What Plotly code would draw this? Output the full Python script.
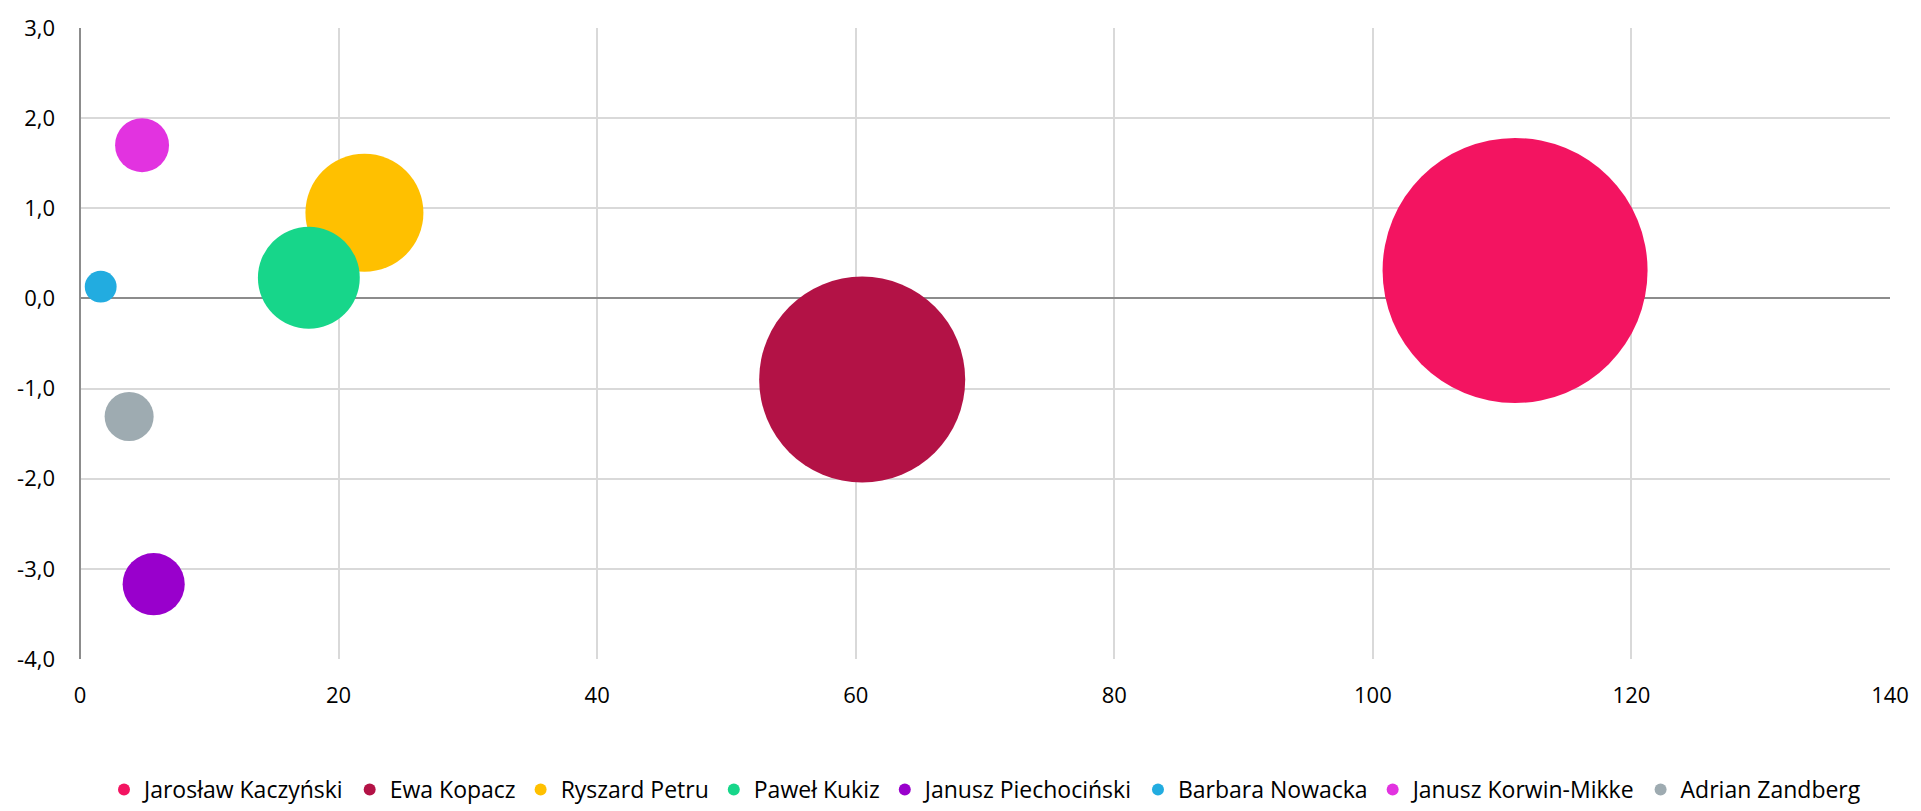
import plotly.graph_objects as go

# Politicians, their position (x, y) and bubble size
names = [
    "Jarosław Kaczyński",
    "Ewa Kopacz",
    "Ryszard Petru",
    "Paweł Kukiz",
    "Janusz Piechociński",
    "Barbara Nowacka",
    "Janusz Korwin-Mikke",
    "Adrian Zandberg",
]
x_values = [111.0, 60.5, 22.0, 17.7, 5.7, 1.6, 4.8, 3.8]
y_values = [0.31, -0.90, 0.95, 0.23, -3.17, 0.13, 1.70, -1.31]
bubble_sizes = [111.0, 67.1, 22.0, 16.4, 6.1, 1.6, 4.6, 3.8]
colors = [
    "#F31461",
    "#B31246",
    "#FFC000",
    "#17D68A",
    "#9900CC",
    "#22ACE0",
    "#E233E0",
    "#9EABB1",
]

x_ticks = [0, 20, 40, 60, 80, 100, 120, 140]
y_ticks = [-4, -3, -2, -1, 0, 1, 2, 3]
y_tick_labels = [f"{v:.1f}".replace(".", ",") for v in y_ticks]

FONT = "Open Sans"
MAX_DIAMETER = 265  # px diameter of the largest bubble
sizeref = 2.0 * max(bubble_sizes) / MAX_DIAMETER ** 2

fig = go.Figure()
for name, xv, yv, sv, col in zip(names, x_values, y_values, bubble_sizes, colors):
    fig.add_trace(
        go.Scatter(
            x=[xv],
            y=[yv],
            name=name,
            mode="markers",
            marker=dict(
                size=[sv],
                sizemode="area",
                sizeref=sizeref,
                color=col,
                opacity=1,
                line=dict(width=0),
            ),
            hovertemplate=name + "<br>%{x}; %{y}<extra></extra>",
        )
    )

fig.update_layout(
    width=1921,
    height=811,
    margin=dict(l=80, r=24, t=23, b=152),
    paper_bgcolor="white",
    plot_bgcolor="white",
    font=dict(family=FONT, size=22, color="#000000"),
    showlegend=True,
    legend=dict(
        orientation="h",
        x=0.5,
        xanchor="center",
        yref="container",
        y=0.0,
        yanchor="bottom",
        itemsizing="constant",
        itemwidth=30,
        font=dict(family=FONT, size=23, color="#000000"),
        traceorder="normal",
    ),
    xaxis=dict(
        range=[0, 140],
        tickvals=x_ticks,
        ticktext=[str(v) for v in x_ticks],
        showgrid=True,
        gridcolor="#D9D9D9",
        gridwidth=1.5,
        zeroline=True,
        zerolinecolor="#8C8C8C",
        zerolinewidth=1.5,
        showline=False,
        ticks="",
        ticklabelstandoff=21,
        tickfont=dict(family=FONT, size=22),
    ),
    yaxis=dict(
        range=[-4, 3],
        tickvals=y_ticks,
        ticktext=y_tick_labels,
        showgrid=True,
        gridcolor="#D9D9D9",
        gridwidth=1.5,
        zeroline=True,
        zerolinecolor="#8C8C8C",
        zerolinewidth=1.5,
        showline=False,
        ticks="",
        ticklabelstandoff=24,
        tickfont=dict(family=FONT, size=22),
    ),
)

fig.write_html("out.html")
